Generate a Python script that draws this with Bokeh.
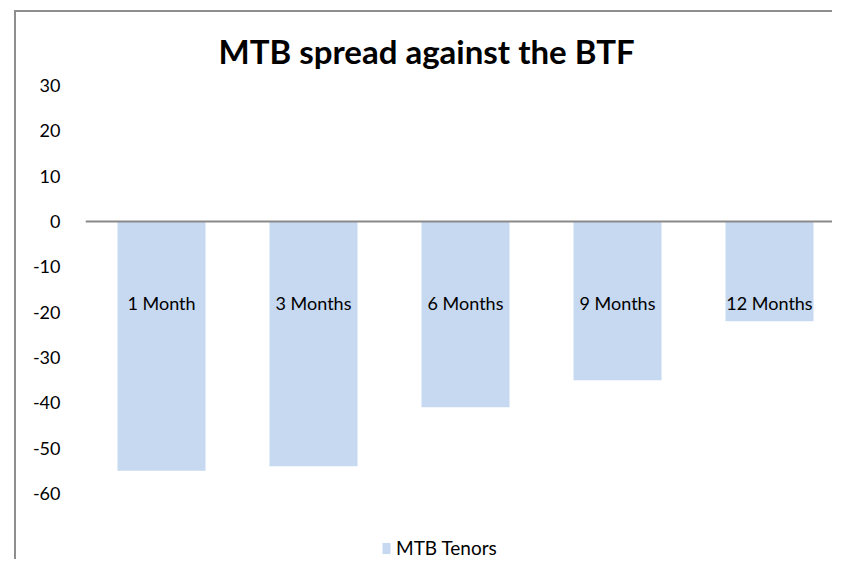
from bokeh.plotting import figure
from bokeh.models import Range1d, FixedTicker, Span, Legend, LegendItem, ColumnDataSource
from bokeh.core.properties import value
from bokeh.embed import file_html
from bokeh.resources import INLINE

# ---- data ----
categories = ["1 Month", "3 Months", "6 Months", "9 Months", "12 Months"]
spreads = [-55, -54, -41, -35, -22]
y_ticks = [30, 20, 10, 0, -10, -20, -30, -40, -50, -60]
label_level = -20
series_name = "MTB Tenors"
title_text = "MTB spread against the BTF"

xs = list(range(len(categories)))
src = ColumnDataSource(dict(
    x=xs, top=[0] * len(xs), bottom=spreads, cat=categories,
    ly=[label_level] * len(xs)))

FONT = "Lato"

p = figure(width=818, height=549, output_backend="svg", toolbar_location=None,
           x_range=Range1d(-0.5, -0.5 + 749 / 152), y_range=Range1d(-75, 30),
           min_border_left=69, min_border_right=0, min_border_top=73,
           min_border_bottom=0, title=title_text)
p.margin = (10, 0, 0, 14)
p.styles = {"border-left": "2px solid #8e8e8e", "border-top": "2px solid #8e8e8e",
            "overflow": "hidden"}

p.title.align = "left"
p.title.offset = 133
p.title.standoff = 28
p.title.vertical_align = "middle"
p.title.text_font = FONT
p.title.text_font_size = "33px"
p.title.text_font_style = "bold"
p.title.text_color = "#000000"

p.outline_line_color = None
p.xgrid.visible = False
p.ygrid.visible = False
p.xaxis.visible = False

p.yaxis.ticker = FixedTicker(ticks=y_ticks)
p.yaxis.major_label_overrides = {t: str(t) for t in y_ticks}
p.yaxis.axis_line_color = None
p.yaxis.major_tick_line_color = None
p.yaxis.minor_tick_line_color = None
p.yaxis.major_label_standoff = 19
p.yaxis.major_label_text_font = FONT
p.yaxis.major_label_text_font_size = "18px"
p.yaxis.major_label_text_color = "#000000"

bars = p.vbar(x="x", top="top", bottom="bottom", width=88 / 152, source=src,
              fill_color="#c6d9f1", line_color=None)

p.add_layout(Span(location=0, dimension="width", line_color="#898989", line_width=2))

p.text(x="x", y="ly", text="cat", source=src, text_align="center",
       text_baseline="middle", y_offset=-9, text_font=value(FONT),
       text_font_size="18px", text_color="#000000")

legend = Legend(items=[LegendItem(label=series_name, renderers=[bars])],
                location=(296, 2), orientation="horizontal",
                glyph_width=10, glyph_height=14, border_line_color=None,
                background_fill_alpha=0, padding=2, margin=0,
                label_text_font=FONT, label_text_font_size="19px",
                label_text_color="#000000", label_standoff=5)
p.add_layout(legend)

open("out.html", "w").write(file_html(p, INLINE))
